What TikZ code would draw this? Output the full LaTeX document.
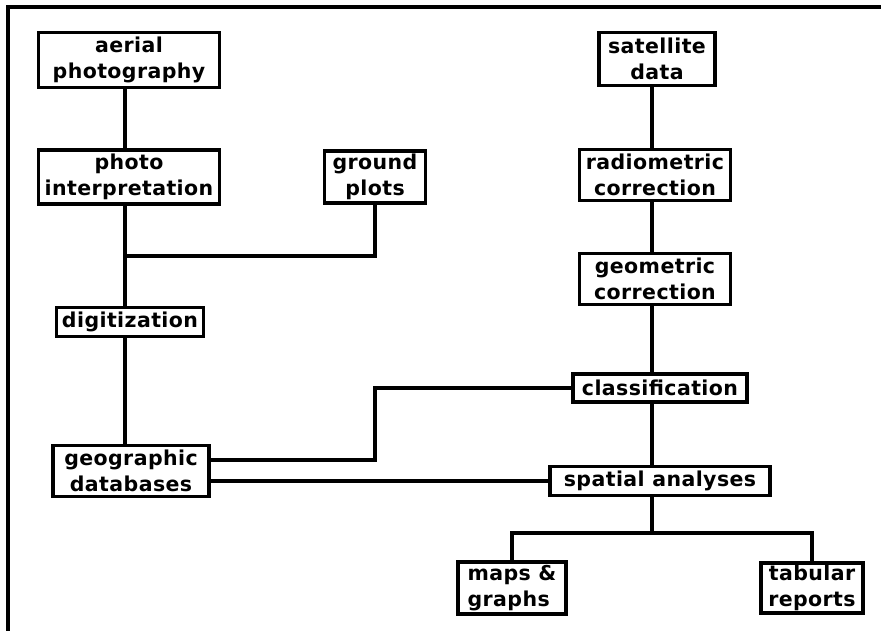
\documentclass[tikz,border=0pt]{standalone}
\usepackage{fontspec}
\setmainfont{DejaVu Sans}[LetterSpace=2]
\begin{document}
\begin{tikzpicture}[x=1pt, y=-1pt,
    stage/.style={draw, line width=3.5pt, fill=white, align=center, inner sep=2pt,
      font=\bfseries\fontsize{20.5}{26}\selectfont},
    link/.style={line width=3.5pt}]
  \useasboundingbox (0,0) rectangle (881,631);
  %Frame
  \draw[link] (881,7) -- (8,7) -- (8,631);
  %Spines
  \coordinate (ls) at (125,0);
  \coordinate (rs) at (652,0);
  %Left column
  \node[stage, minimum width=181, minimum height=55] (aerial) at (129,60) {aerial\\photography};
  \node[stage, minimum width=181, minimum height=54] (photo) at (129,177) {photo\\interpretation};
  \node[stage, minimum width=101, minimum height=52] (ground) at (375,177) {ground\\plots};
  \node[stage, minimum width=147, minimum height=29] (digit) at (130,322) {digitization};
  \node[stage, minimum width=156, minimum height=51] (geo) at (131,471) {geographic\\databases};
  %Right column
  \node[stage, minimum width=116, minimum height=53] (sat) at (657,59) {satellite\\data};
  \node[stage, minimum width=151, minimum height=51] (radio) at (655,175) {radiometric\\correction};
  \node[stage, minimum width=151, minimum height=51] (geom) at (655,279) {geometric\\correction};
  \node[stage, minimum width=174, minimum height=28] (class) at (660,388) {classification};
  \node[stage, minimum width=220, minimum height=29] (spatial) at (660,481) {spatial analyses};
  %Products
  \node[stage, align=left, minimum width=108, minimum height=52] (maps) at (512,588) {maps \&\\graphs};
  \node[stage, minimum width=102, minimum height=50] (tabular) at (812,588) {tabular\\reports};
  %Left links
  \draw[link] (aerial.south -| ls) -- (photo.north -| ls);
  \draw[link] (photo.south -| ls) -- (digit.north -| ls);
  \draw[link] (digit.south -| ls) -- (geo.north -| ls);
  \coordinate (gj) at (125,256);
  \draw[link] (ground.south) |- (gj);
  %Right links
  \draw[link] (sat.south -| rs) -- (radio.north -| rs);
  \draw[link] (radio.south -| rs) -- (geom.north -| rs);
  \draw[link] (geom.south -| rs) -- (class.north -| rs);
  \draw[link] (class.south -| rs) -- (spatial.north -| rs);
  %Cross links
  \coordinate (cb) at (375,460);
  \draw[link] (class.west) -| (cb) -- (cb -| geo.east);
  \draw[link] (spatial.west) -- (spatial.west -| geo.east);
  %Outputs
  \coordinate (fork) at (652,533);
  \draw[link] (spatial.south -| rs) -- (fork);
  \draw[link] (maps) |- (fork);
  \draw[link] (tabular) |- (fork);
\end{tikzpicture}
\end{document}
